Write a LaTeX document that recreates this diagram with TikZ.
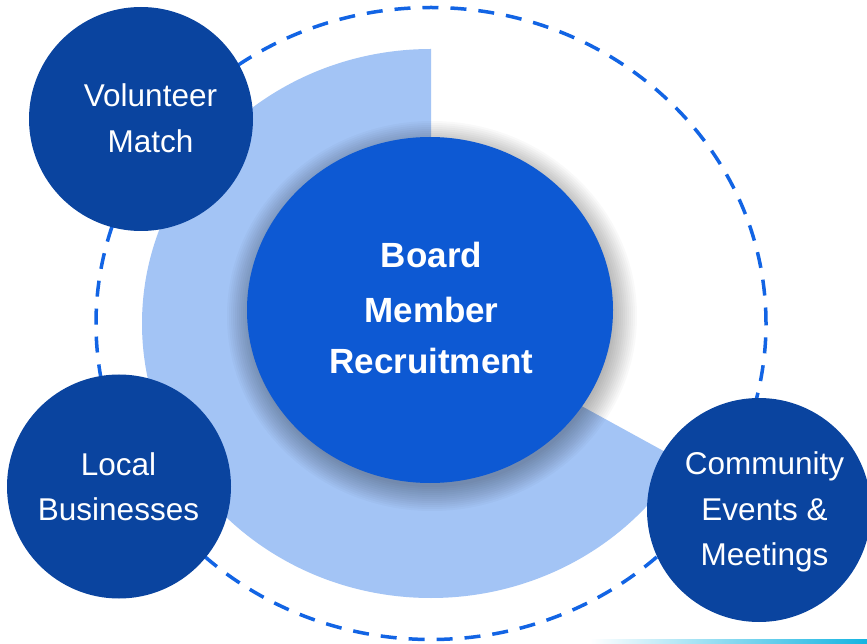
\documentclass[tikz,border=0pt]{standalone}
\usepackage{fontspec}
\setmainfont{Liberation Sans}
\usetikzlibrary{shapes.geometric}
\definecolor{darkblue}{RGB}{10,68,159}
\definecolor{midblue}{RGB}{13,89,211}
\definecolor{dashblue}{RGB}{18,100,228}
\definecolor{paleblue}{RGB}{163,196,245}
\definecolor{cyanline}{RGB}{20,180,225}
\tikzset{
  smallcirc/.style={circle, fill=darkblue, minimum size=224pt, inner sep=0pt},
  bigcirc/.style={ellipse, fill=midblue, minimum width=366pt, minimum height=346pt, inner sep=0pt},
  shadowlayer/.style={fill=black, opacity=0.022},
  lbl/.style={text=white, anchor=base, inner sep=0pt, font=\fontsize{31.5}{46}\selectfont},
  boldlbl/.style={text=white, anchor=base, inner sep=0pt, font=\fontsize{35}{53}\selectfont\bfseries},
  ring/.style={draw=dashblue, line width=3.5pt, dash pattern=on 16pt off 12pt}
}
\begin{document}
\begin{tikzpicture}[x=1pt,y=1pt]
\useasboundingbox (0,0) rectangle (867,643);
\clip (0,0) rectangle (867,643);
\fill[white] (0,0) rectangle (867,643);
% pale sector
\coordinate (C) at (431,319.5);
\fill[paleblue] (C) -- (431,594) arc[start angle=90, end angle=330, x radius=289, y radius=274.5] -- cycle;
% dashed ring
\draw[ring] (C) ellipse[x radius=335, y radius=316];
% bottom line
\shade[left color=white, right color=cyanline] (590,0) rectangle (867,3.5);
% soft shadow of the centre
\coordinate (S) at (432,327);
\foreach \r in {-2,0,...,22}{
  \fill[shadowlayer] (S) ellipse[x radius=183+\r, y radius=173+\r];
}
% centre
\node[bigcirc] (board) at (430,333) {};
\node[boldlbl] (b1) at (431.5,375) {Board};
\node[boldlbl] (b2) at (431.5,320) {Member};
\node[boldlbl] (b3) at (431.5,269) {Recruitment};
% satellites
\node[smallcirc] (vm) at (141,524) {};
\node[lbl] (vm1) at (150.5,536) {Volunteer};
\node[lbl] (vm2) at (150.5,490) {Match};
\node[smallcirc] (lb) at (119,156.5) {};
\node[lbl] (lb1) at (118.5,168) {Local};
\node[lbl] (lb2) at (118.5,123) {Businesses};
\node[smallcirc] (ce) at (759,133) {};
\node[lbl] (ce1) at (764.5,169) {Community};
\node[lbl] (ce2) at (764.5,123) {Events \&};
\node[lbl] (ce3) at (764.5,78) {Meetings};
\end{tikzpicture}
\end{document}
